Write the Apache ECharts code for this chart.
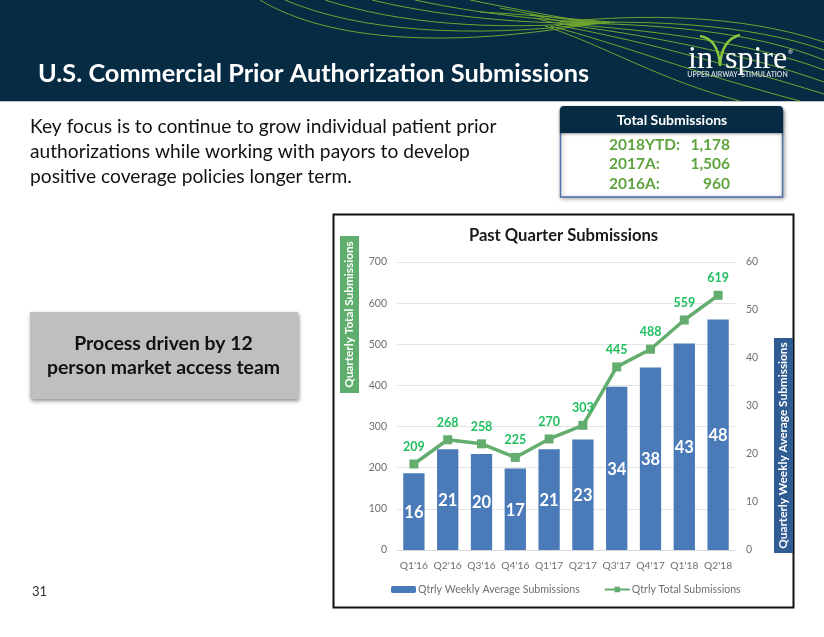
<!DOCTYPE html>
<html>
<head>
<meta charset="utf-8">
<style>
html, body { margin: 0; padding: 0; background: #fff; }
#main { width: 824px; height: 637px; }
</style>
<script src="https://cdn.jsdelivr.net/npm/echarts@6/dist/echarts.min.js"></script>
</head>
<body>
<div id="main"></div>
<script>
var quarters = ["Q1'16", "Q2'16", "Q3'16", "Q4'16", "Q1'17", "Q2'17", "Q3'17", "Q4'17", "Q1'18", "Q2'18"];
var weeklyAvg = [16, 21, 20, 17, 21, 23, 34, 38, 43, 48];
var totalSubs = [209, 268, 258, 225, 270, 303, 445, 488, 559, 619];

var summaryLabels = ['2018YTD:', '2017A:', '2016A:'];
var summaryValues = ['1,178', '1,506', '960'];

var bodyLines = [
    'Key focus is to continue to grow individual patient prior',
    'authorizations while working with payors to develop',
    'positive coverage policies longer term.'
];

var FONT = 'Lato';

// green swoosh lines in the header: [x1, y1, cpx1, cpy1, cpx2, cpy2, x2, y2]
var swooshes = [
    [260, 0, 330, 42, 450, 48, 590, 24], [285, 0, 360, 32, 470, 38, 590, 24],
    [325, 0, 400, 24, 490, 30, 590, 23], [372, 0, 430, 14, 510, 24, 590, 23],
    [415, 0, 460, 10, 530, 20, 590, 22], [470, 0, 500, 6, 550, 16, 590, 22],
    [500, 8, 530, 14, 560, 20, 600, 22], [480, 12, 520, 14, 560, 18, 610, 22],
    [530, 14, 555, 22, 580, 25, 610, 22], [535, 18, 560, 26, 585, 26, 615, 22],
    [560, 22, 640, 14, 740, 14, 824, 42], [570, 23, 650, 20, 750, 24, 824, 50],
    [570, 23, 650, 24, 750, 30, 824, 60], [565, 24, 650, 30, 750, 42, 824, 70],
    [560, 24, 640, 34, 740, 52, 824, 82], [555, 25, 630, 38, 720, 62, 824, 94],
    [550, 26, 620, 44, 690, 72, 800, 101], [545, 26, 610, 48, 660, 80, 740, 101]
];

var graphics = [];

function rect(x, y, w, h, style, r) {
    graphics.push({ type: 'rect', silent: true, shape: { x: x, y: y, width: w, height: h, r: r || 0 }, style: style });
}
function text(x, y, str, size, color, opt) {
    opt = opt || {};
    graphics.push({
        type: 'text', silent: true, x: x, y: y, rotation: opt.rotation || 0,
        style: {
            text: str, fill: color, align: opt.align || 'left', verticalAlign: 'middle',
            fontFamily: opt.family || FONT, fontSize: size, fontWeight: opt.weight || 'normal'
        }
    });
}

// header band
rect(0, 0, 824, 101, { fill: '#072b43' });
rect(0, 101, 824, 1, { fill: '#b9c4cb' });
swooshes.forEach(function (s) {
    graphics.push({
        type: 'bezierCurve', silent: true,
        shape: { x1: s[0], y1: s[1], cpx1: s[2], cpy1: s[3], cpx2: s[4], cpy2: s[5], x2: s[6], y2: s[7] },
        style: { stroke: '#6fa52f', lineWidth: 1, fill: 'none' }
    });
});
text(38, 74, 'U.S. Commercial Prior Authorization Submissions', 25.3, '#ffffff', { weight: 'bold' });

// logo
text(688, 60, 'in', 32, '#ffffff', { family: 'Liberation Serif' });
text(725, 60, 'spire', 32, '#ffffff', { family: 'Liberation Serif' });
text(788, 52, '®', 6, '#ffffff');
text(737.5, 75, 'UPPER AIRWAY  STIMULATION', 6.9, '#c9d2d8', { align: 'center', weight: 'bold' });
graphics.push({
    type: 'bezierCurve', silent: true,
    shape: { x1: 700, y1: 36, cpx1: 712, cpy1: 38, cpx2: 719, cpy2: 48, x2: 720, y2: 66 },
    style: { stroke: '#8cc63f', lineWidth: 2.5, fill: 'none' }
});
graphics.push({
    type: 'bezierCurve', silent: true,
    shape: { x1: 740, y1: 35, cpx1: 728, cpy1: 38, cpx2: 721, cpy2: 48, x2: 720, y2: 66 },
    style: { stroke: '#8cc63f', lineWidth: 2.5, fill: 'none' }
});

// intro text
bodyLines.forEach(function (line, i) {
    text(30, 127 + i * 25, line, 19.2, '#111111');
});

// total submissions box
rect(560.5, 110, 222, 87, { fill: '#ffffff', stroke: '#4f6fa5', lineWidth: 1.5, shadowBlur: 4, shadowColor: 'rgba(0,0,0,0.35)', shadowOffsetX: 1, shadowOffsetY: 1 });
rect(560, 106, 223, 27, { fill: '#072b43', shadowBlur: 3, shadowColor: 'rgba(0,0,0,0.4)', shadowOffsetY: 1 }, [4, 4, 0, 0]);
text(672, 120, 'Total Submissions', 14, '#ffffff', { align: 'center', weight: 'bold' });
summaryLabels.forEach(function (label, i) {
    text(609, 144.5 + i * 19.7, label, 15.5, '#5fa43e', { weight: 'bold' });
    text(730, 144.5 + i * 19.7, summaryValues[i], 15.5, '#5fa43e', { weight: 'bold', align: 'right' });
});

// grey callout
rect(30, 312, 268, 87, { fill: '#bfbfbf', shadowBlur: 4, shadowColor: 'rgba(0,0,0,0.45)', shadowOffsetX: 1, shadowOffsetY: 2 });
text(163.5, 344, 'Process driven by 12', 19.4, '#111111', { align: 'center', weight: 'bold' });
text(163.5, 368, 'person market access team', 19.4, '#111111', { align: 'center', weight: 'bold' });

text(32, 592, '31', 13, '#333333');

// chart frame and axis title boxes
rect(333.5, 214.5, 460, 393, { fill: 'none', stroke: '#111111', lineWidth: 2 });
rect(340, 236, 19, 157, { fill: '#5fae6e' });
text(349.5, 314.5, 'Quarterly Total Submissions', 11.8, '#ffffff', { align: 'center', weight: 'bold', rotation: Math.PI / 2 });
rect(774, 338, 19, 215, { fill: '#2f5c92' });
text(783.5, 445.5, 'Quarterly Weekly Average Submissions', 11.8, '#ffffff', { align: 'center', weight: 'bold', rotation: Math.PI / 2 });

var option = {
    animation: false,
    backgroundColor: '#ffffff',
    title: {
        text: 'Past Quarter Submissions',
        left: 558.5,
        top: 222,
        textAlign: 'center',
        textStyle: { fontFamily: FONT, fontSize: 16.6, fontWeight: 'bold', color: '#1a1a1a' }
    },
    grid: { left: 397, right: 89, top: 262, bottom: 87 },
    legend: {
        left: 386,
        top: 579,
        itemWidth: 25,
        itemHeight: 7,
        itemGap: 24,
        textStyle: { fontFamily: FONT, fontSize: 10.6, color: '#6f6f6f', padding: [0, 0, 0, -3] },
        data: ['Qtrly Weekly Average Submissions', 'Qtrly Total Submissions']
    },
    xAxis: [{
        type: 'category',
        data: quarters,
        axisTick: { show: false },
        axisLine: { lineStyle: { color: '#d9d9d9' } },
        axisLabel: { fontFamily: FONT, fontSize: 10.3, color: '#6f6f6f', margin: 11, interval: 0 }
    }],
    yAxis: [{
        type: 'value',
        min: 0,
        max: 700,
        interval: 100,
        axisLine: { show: false },
        axisTick: { show: false },
        splitLine: { lineStyle: { color: '#e4e4e4' } },
        axisLabel: { fontFamily: FONT, fontSize: 10.5, color: '#6f6f6f', margin: 10 }
    }, {
        type: 'value',
        min: 0,
        max: 60,
        interval: 10,
        axisLine: { show: false },
        axisTick: { show: false },
        splitLine: { show: false },
        axisLabel: { fontFamily: FONT, fontSize: 10.5, color: '#6f6f6f', margin: 11 }
    }],
    series: [{
        name: 'Qtrly Weekly Average Submissions',
        type: 'bar',
        yAxisIndex: 1,
        data: weeklyAvg,
        barWidth: '63%',
        itemStyle: { color: '#4a7ab8' },
        label: {
            show: true,
            position: 'inside',
            offset: [0, 1],
            fontFamily: FONT,
            fontSize: 16.5,
            fontWeight: 'bold',
            color: '#ffffff'
        }
    }, {
        name: 'Qtrly Total Submissions',
        type: 'line',
        yAxisIndex: 0,
        data: totalSubs,
        symbol: 'rect',
        symbolSize: 9,
        lineStyle: { color: '#63ad6f', width: 3.5 },
        itemStyle: { color: '#63ad6f' },
        label: {
            show: true,
            position: 'top',
            distance: 6,
            fontFamily: FONT,
            fontSize: 12.5,
            fontWeight: 'bold',
            color: '#1fbf5f'
        }
    }],
    graphic: { elements: graphics }
};

var chart = echarts.init(document.getElementById('main'));
chart.setOption(option);
</script>
</body>
</html>
